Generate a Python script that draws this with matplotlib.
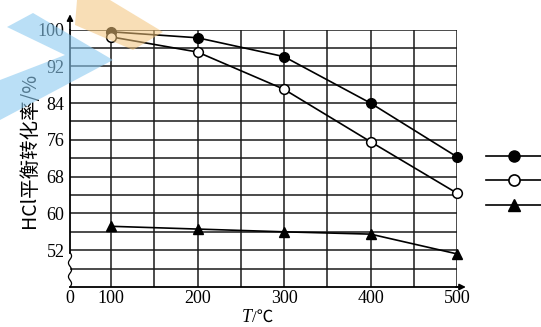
import numpy as np
import matplotlib.pyplot as plt
from matplotlib.lines import Line2D
from matplotlib.patches import Polygon

# values
temps = [100, 200, 300, 400, 500]
conv_filled = [99.5, 98.2, 94.1, 84.0, 72.3]
conv_open = [98.4, 95.1, 87.0, 75.6, 64.4]
conv_tri = [57.2, 56.6, 56.0, 55.5, 51.2]

x_ticks = [52.6, 100, 200, 300, 400, 500]
x_labels = ['0', '100', '200', '300', '400', '500']
y_ticks = [52, 60, 68, 76, 84, 92, 100]

W, H = 541, 327
serif = ['Liberation Serif', 'Noto Sans CJK SC']
cjk = ['Noto Sans CJK SC', 'DejaVu Sans']

fig = plt.figure(figsize=(W / 100, H / 100), dpi=100)
ax = fig.add_axes([70 / W, 1 - 287 / H, (457 - 70) / W, (287 - 29.5) / H])
ax.set_xlim(52.6, 500)
ax.set_ylim(44, 100)

# grid
for gx in np.arange(100, 501, 50):
    ax.axvline(gx, color='#1a1a1a', lw=1.1, zorder=1)
for gy in np.arange(48, 101, 4):
    ax.axhline(gy, color='#1a1a1a', lw=1.1, zorder=1)

for s in ax.spines.values():
    s.set_visible(False)
ax.tick_params(length=0, labelsize=13)
ax.tick_params(axis='x', pad=2)
ax.tick_params(axis='y', pad=4)
ax.set_xticks(x_ticks)
ax.set_xticklabels(x_labels, family=serif)
ax.set_yticks(y_ticks)
ax.set_yticklabels([str(v) for v in y_ticks], family=serif)

# axes with arrows and a break on y
ax.plot([0, 1.0], [0, 0], transform=ax.transAxes, color='black', lw=1.3, clip_on=False)
ax.annotate('', xy=(1.03, 0), xytext=(0.99, 0), xycoords='axes fraction',
            arrowprops=dict(arrowstyle='-|>', color='black', lw=1.2, mutation_scale=9))
ax.plot([0, 0], [(51.5 - 44) / 56, 1.0], transform=ax.transAxes, color='black', lw=1.3, clip_on=False)
ax.annotate('', xy=(0, 1.07), xytext=(0, 0.99), xycoords='axes fraction',
            arrowprops=dict(arrowstyle='-|>', color='black', lw=1.2, mutation_scale=9))
sq_y = np.linspace(0, (51.5 - 44) / 56, 60)
sq_x = 0.004 * np.sin(sq_y * 56 / 7.5 * 2 * np.pi * 2.5)
ax.plot(sq_x, sq_y, transform=ax.transAxes, color='black', lw=0.9, clip_on=False)

# series
ax.plot(temps, conv_filled, color='black', lw=1.2, marker='o', ms=7,
        mfc='black', mec='black', zorder=3, clip_on=False)
ax.plot(temps, conv_open, color='black', lw=1.2, marker='o', ms=7,
        mfc='white', mec='black', mew=1.1, zorder=3, clip_on=False)
ax.plot(temps, conv_tri, color='black', lw=1.2, marker='^', ms=7,
        mfc='black', mec='black', zorder=3, clip_on=False)

fig.text(30 / W, 1 - 150 / H, 'HCl平衡转化率/%', family=cjk, fontsize=14,
         rotation=90, ha='center', va='center')
fig.text(252 / W, 1 - 318 / H, 'T', family='Liberation Serif', style='italic',
         fontsize=13, ha='right', va='center')
fig.text(252 / W, 1 - 318 / H, '/℃', family=serif, fontsize=12,
         ha='left', va='center')

# legend without labels on the right
handles = [
    Line2D([], [], color='black', lw=1.2, marker='o', ms=8, mfc='black'),
    Line2D([], [], color='black', lw=1.2, marker='o', ms=8, mfc='white', mew=1.2),
    Line2D([], [], color='black', lw=1.2, marker='^', ms=8, mfc='black'),
]
fig.legend(handles, ['', '', ''], loc='center', bbox_to_anchor=(514 / W, 1 - 181 / H),
           frameon=False, handlelength=4.0, handletextpad=0, labelspacing=0.75,
           fontsize=10, borderpad=0)

# watermark shapes
def px(pts):
    return [(x / W, 1 - y / H) for x, y in pts]

fig.patches.append(Polygon(px([(33, 13), (113, 60), (0, 120), (0, 80), (65, 55), (7, 27)]),
                           closed=True, transform=fig.transFigure, fc='#8ccaf0', ec='none',
                           alpha=0.6, zorder=5))
fig.patches.append(Polygon(px([(77, 0), (110, 0), (163, 32), (133, 50), (75, 25)]),
                           closed=True, transform=fig.transFigure, fc='#f3c47a', ec='none',
                           alpha=0.55, zorder=5))

fig.savefig('out.png', dpi=100)
